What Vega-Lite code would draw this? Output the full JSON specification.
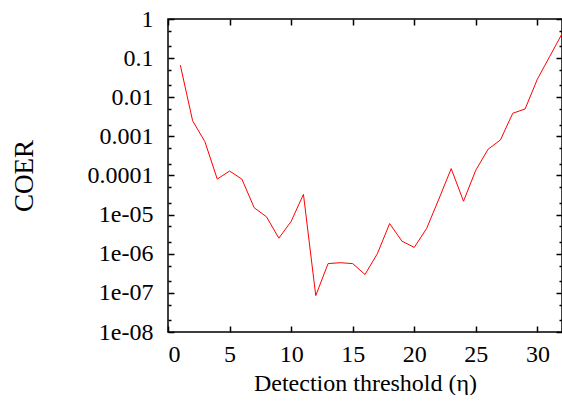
{
  "$schema": "https://vega.github.io/schema/vega-lite/v6.json",
  "width": 394,
  "height": 313,
  "autosize": {"type": "pad"},
  "padding": {"left": 10, "top": 7, "right": 0, "bottom": 0},
  "background": "white",
  "config": {
    "view": {"stroke": "black", "strokeWidth": 1.5},
    "font": "Liberation Serif",
    "axis": {"labelColor": "black", "titleColor": "black", "labelFont": "Liberation Serif", "titleFont": "Liberation Serif", "labelFontSize": 24, "titleFontSize": 24, "titleFontWeight": "normal"}
  },
  "datasets": {"pts": [
    {"eta": 1, "coer": 0.066},
    {"eta": 2, "coer": 0.0025},
    {"eta": 3, "coer": 0.00073},
    {"eta": 4, "coer": 0.000081},
    {"eta": 5, "coer": 0.00013},
    {"eta": 6, "coer": 0.000081},
    {"eta": 7, "coer": 0.000015},
    {"eta": 8, "coer": 0.0000088},
    {"eta": 9, "coer": 0.0000025},
    {"eta": 10, "coer": 0.0000067},
    {"eta": 11, "coer": 0.000033},
    {"eta": 12, "coer": 0.000000085},
    {"eta": 13, "coer": 0.00000056},
    {"eta": 14, "coer": 0.00000059},
    {"eta": 15, "coer": 0.00000056},
    {"eta": 16, "coer": 0.000000295},
    {"eta": 17, "coer": 0.000001},
    {"eta": 18, "coer": 0.0000059},
    {"eta": 19, "coer": 0.0000021},
    {"eta": 20, "coer": 0.00000145},
    {"eta": 21, "coer": 0.0000044},
    {"eta": 22, "coer": 0.000025},
    {"eta": 23, "coer": 0.00015},
    {"eta": 24, "coer": 0.000022},
    {"eta": 25, "coer": 0.000137},
    {"eta": 26, "coer": 0.00047},
    {"eta": 27, "coer": 0.00081},
    {"eta": 28, "coer": 0.0039},
    {"eta": 29, "coer": 0.005},
    {"eta": 30, "coer": 0.029},
    {"eta": 31, "coer": 0.11},
    {"eta": 32, "coer": 0.42}
  ]},
  "data": {"name": "pts"},
  "layer": [
    {
      "mark": {"type": "line", "strokeOpacity": 0},
      "encoding": {
        "x": {"field": "eta", "type": "quantitative", "scale": {"domain": [0, 32], "nice": false, "zero": false},
              "axis": {"orient": "top", "title": null, "labels": false, "domain": false, "grid": false, "ticks": true, "tickColor": "black", "tickWidth": 1.5, "values": [0, 5, 10, 15, 20, 25, 30], "tickSize": 6, "offset": -6}},
        "y": {"field": "coer", "type": "quantitative", "scale": {"type": "log", "domain": [1e-8, 1], "nice": false},
              "axis": {"orient": "left", "title": null, "labels": false, "domain": false, "grid": false, "ticks": true, "tickColor": "black", "tickWidth": 1.5, "tickSize": 3, "offset": -3,
                       "values": [2e-8, 5e-8, 2e-7, 5e-7, 2e-6, 5e-6, 2e-5, 5e-5, 2e-4, 5e-4, 0.002, 0.005, 0.02, 0.05, 0.2, 0.5]}}
      }
    },
    {
      "mark": {"type": "line", "strokeOpacity": 0},
      "encoding": {
        "x": {"field": "eta", "type": "quantitative", "axis": null},
        "y": {"field": "coer", "type": "quantitative",
              "axis": {"orient": "right", "title": null, "labels": false, "domain": false, "grid": false, "ticks": true, "tickColor": "black", "tickWidth": 1.5, "tickSize": 3, "offset": -3,
                       "values": [2e-8, 5e-8, 2e-7, 5e-7, 2e-6, 5e-6, 2e-5, 5e-5, 2e-4, 5e-4, 0.002, 0.005, 0.02, 0.05, 0.2, 0.5]}}
      }
    },
    {
      "mark": {"type": "line", "strokeOpacity": 0},
      "encoding": {
        "x": {"field": "eta", "type": "quantitative", "axis": null},
        "y": {"field": "coer", "type": "quantitative",
              "axis": {"orient": "right", "title": null, "labels": false, "domain": false, "grid": false, "ticks": true, "tickColor": "black", "tickWidth": 1.5, "tickSize": 6, "offset": -6,
                       "values": [1e-8, 1e-7, 1e-6, 1e-5, 1e-4, 0.001, 0.01, 0.1, 1]}}
      }
    },
    {
      "mark": {"type": "line", "color": "#ff0000", "strokeWidth": 1, "clip": true},
      "encoding": {
        "x": {"field": "eta", "type": "quantitative",
              "axis": {"orient": "bottom", "title": "Detection threshold (η)", "domain": false, "grid": false, "ticks": true, "tickColor": "black", "tickWidth": 1.5, "values": [0, 5, 10, 15, 20, 25, 30], "tickSize": 6, "offset": -6, "labelPadding": 10, "titleY": 45}},
        "y": {"field": "coer", "type": "quantitative",
              "axis": {"orient": "left", "title": "COER", "titleFontSize": 27, "titleX": -136, "titleY": 156.5, "domain": false, "grid": false, "ticks": true, "tickColor": "black", "tickWidth": 1.5, "tickSize": 6, "offset": -6, "labelPadding": 15,
                       "values": [1e-8, 1e-7, 1e-6, 1e-5, 1e-4, 0.001, 0.01, 0.1, 1],
                       "labelExpr": "round(log(datum.value)/LN10) >= -4 ? format(datum.value, '.' + (-round(log(datum.value)/LN10)) + 'f') : '1e-0' + (-round(log(datum.value)/LN10))"}}
      }
    }
  ],
  "resolve": {"axis": {"x": "independent", "y": "independent"}}
}
